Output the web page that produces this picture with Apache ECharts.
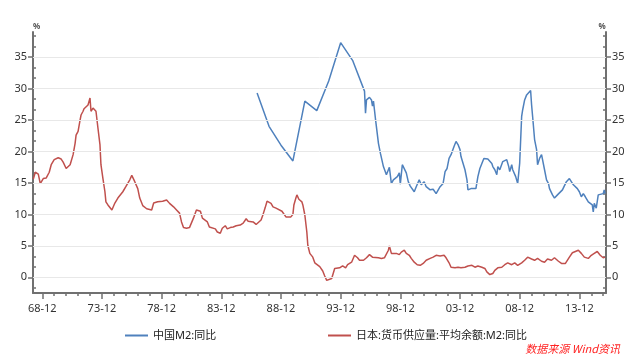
<!DOCTYPE html>
<html><head><meta charset="utf-8">
<script src="https://cdn.jsdelivr.net/npm/echarts@6/dist/echarts.min.js"></script>
<style>html,body{margin:0;padding:0;background:#fff}#c{width:640px;height:358px}</style>
</head><body><div id="c"></div>
<script>
// ---------- data ----------
const chinaName = '中国M2:同比';
const japanName = '日本:货币供应量:平均余额:M2:同比';
const sourceText = '数据来源 Wind资讯';

const chinaDates = ['1986-12','1987-12','1988-12','1989-12','1990-12','1991-12','1992-12','1993-12','1994-12','1995-12',
'1996-01','1996-02','1996-05','1996-07','1996-08','1996-09','1996-11','1997-02','1997-04','1997-07','1997-10','1997-12',
'1998-01','1998-03','1998-05','1998-07','1998-09','1998-11','1998-12','1999-02','1999-04','1999-06','1999-08','1999-10','1999-12',
'2000-02','2000-04','2000-07','2000-09','2000-12','2001-02','2001-04','2001-06','2001-09','2001-12',
'2002-02','2002-04','2002-07','2002-09','2002-11','2003-01','2003-03','2003-06','2003-08','2003-10','2003-12',
'2004-01','2004-03','2004-05','2004-07','2004-08','2004-11','2005-01','2005-04','2005-06','2005-08','2005-10','2005-12',
'2006-02','2006-04','2006-06','2006-08','2006-09','2006-11','2007-01','2007-02','2007-04','2007-06','2007-07','2007-09','2007-11',
'2008-01','2008-02','2008-04','2008-05','2008-08','2008-10','2008-12','2009-02','2009-03','2009-05','2009-07','2009-11','2009-12',
'2010-01','2010-03','2010-05','2010-06','2010-08','2010-10','2010-12','2011-01','2011-03','2011-05','2011-06','2011-09','2011-11',
'2012-02','2012-04','2012-07','2012-09','2012-11','2013-02','2013-04','2013-06','2013-07','2013-10','2013-12',
'2014-02','2014-04','2014-06','2014-09','2014-11','2015-01','2015-02','2015-03','2015-05','2015-07','2015-09','2015-12','2016-01','2016-02'];
const chinaValues = [29.3,24.0,21.0,18.5,28.0,26.5,31.2,37.3,34.5,29.6,
26.1,28.2,28.6,28.2,27.2,28.0,25.2,21.3,19.7,17.6,16.3,17.1,
17.5,14.9,15.5,15.2,16.0,16.6,14.8,17.9,17.6,16.6,15.2,14.5,14.4,
13.6,14.4,15.5,14.7,15.2,14.4,14.5,13.9,14.0,13.3,
13.6,14.4,14.9,16.8,17.3,18.9,19.5,20.8,21.6,21.1,20.3,
19.2,18.9,17.1,15.5,13.9,14.1,14.4,14.1,16.0,17.3,18.1,18.9,
19.2,18.8,18.9,18.1,17.6,17.1,16.3,17.6,17.1,17.3,18.4,18.7,18.7,
17.6,16.8,17.9,17.1,16.0,14.9,18.1,25.6,26.6,28.2,29.0,29.7,27.4,
25.6,21.9,20.3,17.9,18.9,19.5,19.8,17.1,15.5,14.9,14.1,13.1,12.6,
13.1,13.3,13.9,14.1,15.2,15.7,15.9,14.7,14.4,14.1,13.6,
12.8,13.3,12.8,12.0,12.3,11.5,10.4,11.75,11.0,13.1,13.3,13.3,13.9,13.3];

const japanDates = ['1968-03','1968-05','1968-08','1968-10','1969-01','1969-04','1969-07','1969-09','1969-12',
'1970-04','1970-07','1970-09','1970-12','1971-02','1971-04','1971-07','1971-09','1971-10','1971-12',
'1972-02','1972-03','1972-05','1972-06','1972-08','1972-10','1972-12','1973-01','1973-03','1973-05','1973-06','1973-08','1973-10','1973-11',
'1974-01','1974-03','1974-04','1974-06','1974-08','1974-10','1975-01','1975-04','1975-06','1975-09','1975-12',
'1976-04','1976-06','1976-09','1976-12','1977-02','1977-05','1977-09','1978-02','1978-04','1978-08',
'1979-01','1979-05','1979-06','1979-08','1979-12','1980-03','1980-06','1980-08','1980-10',
'1981-01','1981-04','1981-06','1981-08','1981-11','1982-01','1982-03','1982-05','1982-07','1982-10','1982-12',
'1983-02','1983-06','1983-08','1983-11','1984-01','1984-04','1984-06','1984-09','1984-12',
'1985-03','1985-07','1985-10','1986-01','1986-03','1986-05','1986-08','1986-11',
'1987-01','1987-04','1987-06','1987-08','1987-10','1987-12','1988-02','1988-04','1988-07','1988-09',
'1989-01','1989-03','1989-05','1989-07','1989-10','1989-12','1990-01','1990-03','1990-04','1990-06','1990-09','1990-10','1990-12',
'1991-02','1991-03','1991-05','1991-08','1991-10','1991-12','1992-03','1992-06','1992-08','1992-10','1992-12',
'1993-03','1993-05','1993-06','1993-08','1993-11','1994-02','1994-05','1994-07','1994-11',
'1995-02','1995-05','1995-07','1995-11','1996-02','1996-05','1996-08','1996-10',
'1997-02','1997-05','1997-08','1997-12','1998-01','1998-03','1998-05','1998-08','1998-11',
'1999-01','1999-04','1999-06','1999-09','1999-11','2000-02','2000-04','2000-05','2000-08','2000-11',
'2001-02','2001-06','2001-09','2001-12','2002-04','2002-08','2002-10','2003-01','2003-03','2003-07','2003-10',
'2004-01','2004-05','2004-08','2004-12','2005-03','2005-06','2005-10','2006-01','2006-03','2006-06','2006-09','2006-11',
'2007-02','2007-06','2007-09','2007-12','2008-04','2008-07','2008-10','2009-02','2009-05','2009-08','2009-12',
'2010-03','2010-06','2010-10','2011-01','2011-04','2011-08','2011-11','2012-03','2012-06','2012-10',
'2013-02','2013-05','2013-08','2013-11','2014-02','2014-05','2014-09','2014-12','2015-03','2015-06','2015-09','2015-12','2016-02'];
const japanValues = [15.6,16.7,16.4,14.9,15.7,15.8,16.7,17.9,18.7,
19.0,18.8,18.3,17.3,17.1,17.9,19.5,21.3,22.6,23.2,
25.0,25.8,26.4,26.8,26.9,27.4,28.5,26.4,26.9,27.2,26.4,23.7,21.1,17.9,
15.7,13.6,12.0,11.5,11.2,10.7,11.8,12.6,12.8,13.6,14.4,
15.5,16.2,15.2,14.1,12.6,11.4,10.9,10.7,11.8,12.0,
12.1,12.3,12.0,11.75,11.2,10.7,10.2,8.8,7.9,
7.8,7.9,7.7,9.4,10.7,10.7,10.5,9.4,9.1,8.8,8.0,
7.8,7.7,7.2,7.0,7.8,8.2,7.7,7.9,8.0,
8.2,8.3,8.6,9.3,8.9,8.6,8.8,8.4,
8.4,9.1,10.0,11.0,12.1,12.3,11.75,11.2,11.0,10.7,
10.5,10.2,9.6,9.5,9.6,10.0,11.5,12.6,13.1,12.4,12.0,11.5,9.9,
7.2,5.1,3.8,3.2,2.3,2.0,1.7,1.0,0.2,-0.5,-0.5,
-0.2,0.05,1.4,1.6,1.5,1.8,1.5,2.0,2.4,
3.5,3.1,2.7,2.7,3.1,3.6,3.2,3.0,
3.1,3.0,3.1,4.3,5.0,3.8,3.5,3.8,3.6,
4.0,4.3,3.8,3.5,3.0,2.4,2.7,2.0,1.9,2.2,
2.7,3.0,3.2,3.5,3.4,3.5,3.1,2.3,1.6,1.5,1.6,
1.5,1.6,1.8,1.9,1.6,1.8,1.6,1.4,0.85,0.43,0.6,1.1,
1.5,1.6,2.0,2.3,2.0,2.3,1.9,2.3,2.7,3.2,2.9,
2.7,3.0,2.55,2.4,2.9,2.7,3.1,2.55,2.2,2.2,
3.2,3.9,4.1,4.3,3.8,3.2,3.0,3.5,3.8,4.1,3.5,3.1,3.2];

const xTickDates = ['1968-12','1973-12','1978-12','1983-12','1988-12','1993-12','1998-12','2003-12','2008-12','2013-12'];
const yTickLabels = [0,5,10,15,20,25,30,35];
const yUnit = '%';

// ---------- helpers ----------
function toYear(s){ const p=s.split('-').map(Number); return p[0]+(p[1]-1)/12; }
function fmtYM(v){ const y=Math.floor(v+1e-6); let m=Math.round((v-y)*12)+1; return String(y).slice(2)+'-'+(m<10?'0'+m:m); }
const chinaData = chinaDates.map((d,i)=>[toYear(d), chinaValues[i]]);
const japanData = japanDates.map((d,i)=>[toYear(d), japanValues[i]]);
const majorX = xTickDates.map(toYear);
const minorX = []; for (let y=1968; y<=2015; y++) minorX.push(y+11/12);
const minorY = []; for (let k=-1; k<=23; k++){ if (k%3!==0) minorY.push(k*5/3); }

const xMin = 1968.14, xMax = 2016.15, yMin = -2.5, yMax = 39;
const axisColor = '#707070';
const font = "'Noto Sans','Noto Sans CJK SC',sans-serif";
const labelColor = '#333';
const chinaColor = '#4F81BD', japanColor = '#C0504D';

function yAxisMajor(pos){
  return {type:'value', position:pos, min:yMin, max:yMax,
    name: yUnit, nameLocation:'end', nameGap:1,
    nameTextStyle:{fontSize:8, color:'#555', fontFamily:font, fontWeight:'bold',
      padding: pos==='left' ? [0,0,0,7] : [0,8,0,0]},
    axisLine:{show:true, onZero:false, lineStyle:{color:axisColor, width:2}},
    axisTick:{show:true, inside:false, length:5, customValues:yTickLabels, lineStyle:{color:axisColor, width:1.5}},
    axisLabel:{show:true, customValues:yTickLabels, margin:6, fontSize:11, color:labelColor, fontFamily:font},
    splitLine:{show:false}};
}
function yAxisMinor(pos){
  return {type:'value', position:pos, min:yMin, max:yMax,
    axisLine:{show:false, onZero:false},
    axisTick:{show:true, inside:true, length:3, customValues:minorY, lineStyle:{color:axisColor, width:1.5}},
    axisLabel:{show:false}, splitLine:{show:false}};
}

const chart = echarts.init(document.getElementById('c'), null, {renderer:'canvas'});
chart.setOption({
  animation:false,
  backgroundColor:'#fff',
  grid:{left:33, right:34, top:32, bottom:65},
  xAxis:[
    {type:'value', position:'bottom', min:xMin, max:xMax,
      axisLine:{show:true, onZero:false, lineStyle:{color:axisColor, width:2}},
      axisTick:{show:true, length:6, customValues:majorX, lineStyle:{color:axisColor, width:1.5}},
      axisLabel:{show:true, customValues:majorX, formatter:fmtYM, margin:10, fontSize:11, color:labelColor, fontFamily:font},
      splitLine:{show:false}},
    {type:'value', position:'bottom', min:xMin, max:xMax,
      axisLine:{show:false, onZero:false},
      axisTick:{show:true, length:3, customValues:minorX, lineStyle:{color:axisColor, width:1.5}},
      axisLabel:{show:false}, splitLine:{show:false}}
  ],
  yAxis:[yAxisMajor('left'), yAxisMinor('left'), yAxisMajor('right'), yAxisMinor('right')],
  legend:[
    {data:[{name:chinaName, icon:'rect', itemStyle:{color:chinaColor}}], left:120, top:325, itemWidth:23, itemHeight:2, itemGap:4,
      textStyle:{fontSize:11, color:'#222', fontFamily:font}},
    {data:[{name:japanName, icon:'rect', itemStyle:{color:japanColor}}], left:323, top:325, itemWidth:23, itemHeight:2, itemGap:4,
      textStyle:{fontSize:11, color:'#222', fontFamily:font}}
  ],
  graphic:[{type:'text', right:20, top:343,
    style:{text:sourceText, fill:'#ff2222', font:"italic 11px 'Noto Sans CJK SC','Noto Sans',sans-serif"}}],
  series:[
    {name:'grid', type:'line', data:[], xAxisIndex:0, yAxisIndex:0, silent:true, z:1,
      markLine:{silent:true, symbol:['none','none'], label:{show:false},
        lineStyle:{color:'#e8e8e8', type:'solid', width:1},
        data: yTickLabels.map(v=>({yAxis:v}))}},
    {name:chinaName, type:'line', data:chinaData, xAxisIndex:0, yAxisIndex:0,
      symbol:'none', showSymbol:false, lineStyle:{color:chinaColor, width:1.5}, itemStyle:{color:chinaColor}, z:3},
    {name:japanName, type:'line', data:japanData, xAxisIndex:0, yAxisIndex:0,
      symbol:'none', showSymbol:false, lineStyle:{color:japanColor, width:1.5}, itemStyle:{color:japanColor}, z:3}
  ]
});
</script></body></html>
